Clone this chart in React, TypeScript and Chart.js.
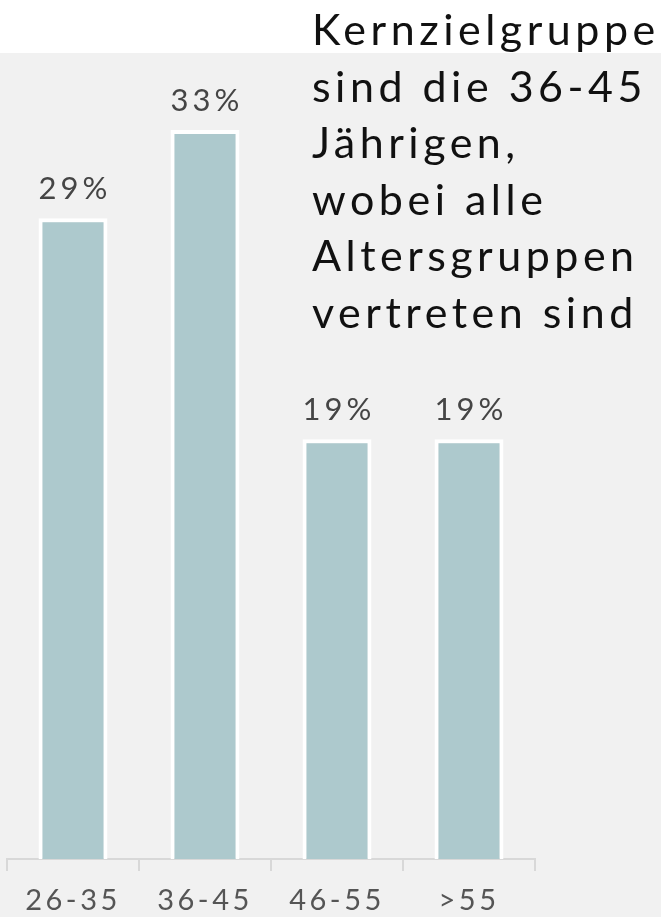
import React, { useEffect, useRef } from "react";
import { Chart, registerables } from "chart.js";

Chart.register(...registerables);

const categories = ["26-35", "36-45", "46-55", ">55"];
const shares = [29, 33, 19, 19];
const valueLabels = ["29%", "33%", "19%", "19%"];
const noteLines = [
  "Kernzielgruppe",
  "sind die 36-45",
  "Jährigen,",
  "wobei alle",
  "Altersgruppen",
  "vertreten sind",
];

const FONT = "Lato, 'Open Sans', sans-serif";

const spacingPlugin = {
  id: "tickSpacing",
  beforeDraw(chart: any) {
    (chart.ctx as any).letterSpacing = "3.5px";
  },
};

const valueLabelPlugin = {
  id: "valueLabels",
  afterDatasetsDraw(chart: any) {
    const ctx = chart.ctx;
    const meta = chart.getDatasetMeta(0);
    ctx.save();
    (ctx as any).letterSpacing = "4px";
    ctx.font = `31px ${FONT}`;
    ctx.fillStyle = "#454545";
    ctx.textAlign = "center";
    ctx.textBaseline = "alphabetic";
    meta.data.forEach((bar: any, i: number) => {
      ctx.fillText(valueLabels[i], bar.x + 2, bar.y - 19);
    });
    ctx.restore();
  },
};

export default function App() {
  const ref = useRef<HTMLCanvasElement | null>(null);

  useEffect(() => {
    if (!ref.current) return;
    const chart = new Chart(ref.current, {
      type: "bar",
      data: {
        labels: categories,
        datasets: [
          {
            data: shares,
            backgroundColor: "#adc9cd",
            borderColor: "#ffffff",
            borderWidth: 4,
            borderSkipped: "start",
            categoryPercentage: 1,
            barPercentage: 0.523,
          },
        ],
      },
      options: {
        responsive: false,
        animation: false,
        events: [],
        layout: { padding: { left: 7, right: 126, top: 130, bottom: -13 } },
        plugins: {
          legend: { display: false },
          tooltip: { enabled: false },
          title: { display: false },
        },
        scales: {
          x: {
            grid: {
              display: true,
              drawOnChartArea: false,
              drawTicks: true,
              tickLength: 12,
              color: "#d8d8d8",
              lineWidth: 2,
              offset: true,
            },
            border: { display: true, color: "#d8d8d8", width: 2 },
            ticks: {
              color: "#555555",
              font: { family: FONT, size: 29, lineHeight: 1 },
              padding: 15,
              maxRotation: 0,
            },
          },
          y: {
            display: false,
            min: 0,
            max: 33,
          },
        },
      },
      plugins: [spacingPlugin, valueLabelPlugin],
    });
    return () => chart.destroy();
  }, []);

  return (
    <div
      style={{
        position: "fixed",
        left: 0,
        top: 0,
        width: 661,
        height: 917,
        background: "#ffffff",
        overflow: "hidden",
      }}
    >
      <div
        style={{
          position: "absolute",
          left: 0,
          top: 53,
          width: 661,
          height: 864,
          background: "#f1f1f1",
        }}
      />
      <canvas
        ref={ref}
        width={661}
        height={917}
        style={{ position: "absolute", left: 0, top: 0, width: 661, height: 917 }}
      />
      <div
        style={{
          position: "absolute",
          left: 312,
          top: 1,
          fontFamily: FONT,
          fontSize: 43,
          lineHeight: "56.5px",
          letterSpacing: "4.5px",
          color: "#111111",
          whiteSpace: "nowrap",
        }}
      >
        {noteLines.map((l, i) => (
          <div key={i}>{l}</div>
        ))}
      </div>
    </div>
  );
}
